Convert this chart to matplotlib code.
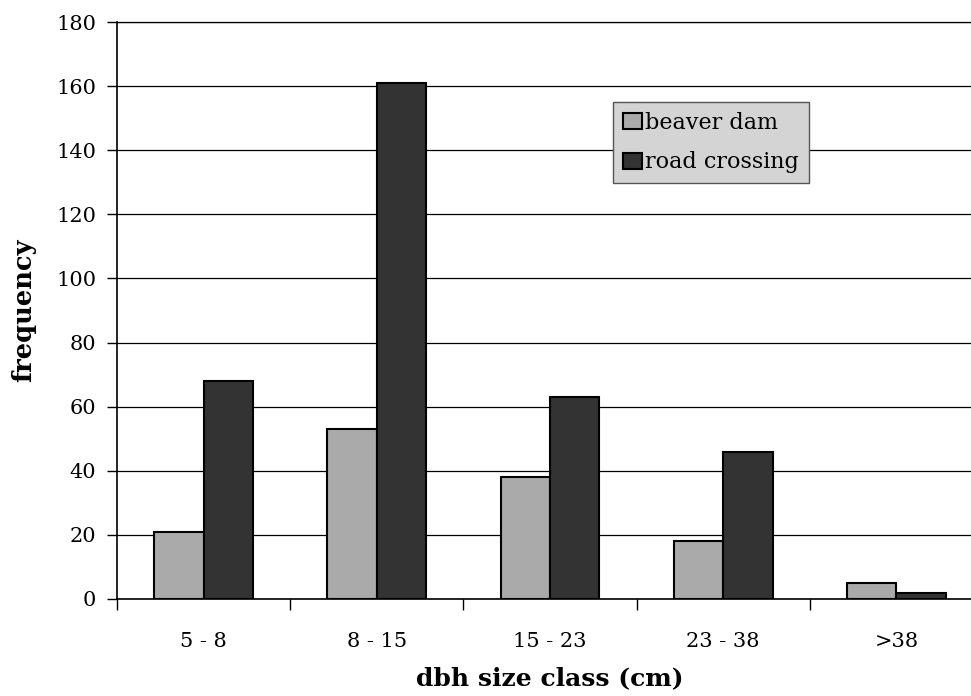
import matplotlib
matplotlib.use("Agg")
import matplotlib.pyplot as plt
import numpy as np

categories = ["5 - 8", "8 - 15", "15 - 23", "23 - 38", ">38"]
beaver_dam = [21, 53, 38, 18, 5]
road_crossing = [68, 161, 63, 46, 2]
y_ticks = [0, 20, 40, 60, 80, 100, 120, 140, 160, 180]

plt.rcParams['font.family'] = ['DejaVu Serif']

fig = plt.figure(figsize=(9.71, 6.96), dpi=100)
ax = fig.add_axes([117 / 971, 97 / 696, 866 / 971, 577 / 696])

x = np.arange(len(categories))
w = 0.285
ax.bar(x - w / 2, beaver_dam, w, color='#aaaaaa', edgecolor='black', linewidth=1.5,
       label='beaver dam', zorder=3)
ax.bar(x + w / 2, road_crossing, w, color='#333333', edgecolor='black', linewidth=1.5,
       label='road crossing', zorder=3)

ax.set_xlim(-0.5, 4.5)
ax.set_ylim(0, 180)
ax.set_yticks(y_ticks)
# category boundaries get the tick marks, centres get the labels
ax.set_xticks(np.arange(-0.5, 5, 1.0))
ax.set_xticklabels([])
ax.set_xticks(x, minor=True)
ax.set_xticklabels(categories, minor=True)
ax.tick_params(axis='x', which='major', length=8, width=1, direction='out')
ax.tick_params(axis='x', which='minor', length=0, pad=24, labelsize=15)
ax.tick_params(axis='y', length=7, width=1, direction='out', pad=8, labelsize=15)

ax.yaxis.grid(True, color='black', linewidth=0.9, zorder=0)
ax.spines['right'].set_visible(False)
ax.spines['top'].set_linewidth(0.9)
ax.spines['left'].set_linewidth(1.2)
ax.spines['bottom'].set_linewidth(1.2)

ax.set_ylabel('frequency', fontsize=18.5, fontweight='bold', labelpad=14)
ax.set_xlabel('dbh size class (cm)', fontsize=18, fontweight='bold', labelpad=11)

leg = ax.legend(loc='upper left', bbox_to_anchor=(0.573, 0.862), fontsize=16,
                frameon=True, fancybox=False, handlelength=0.85, handleheight=0.75,
                handletextpad=0.15, borderpad=0.45, labelspacing=0.8,
                borderaxespad=0)
leg.get_frame().set_facecolor('#d4d4d4')
leg.get_frame().set_edgecolor('#555555')
leg.get_frame().set_linewidth(1.0)
leg.get_frame().set_alpha(1)

fig.savefig('out.png', dpi=100)
